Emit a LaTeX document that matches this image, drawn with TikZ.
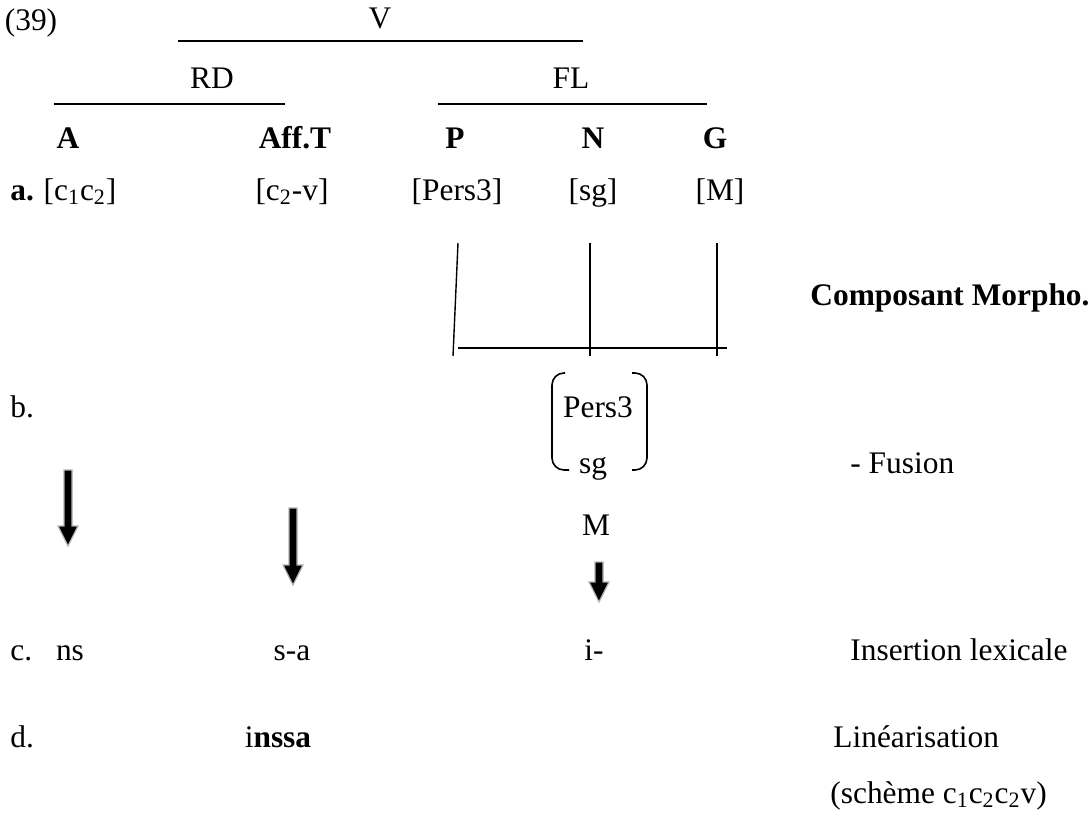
\documentclass[tikz,border=0pt]{standalone}
\usepackage{fontspec}
\setmainfont{Liberation Serif}
\usetikzlibrary{positioning}
\newcommand{\dgsize}{\fontsize{15.7}{19}\selectfont}
\tikzset{
  lbl/.style={inner sep=0pt, text height=0.7em, text depth=0.2em, font=\dgsize},
  lblL/.style={lbl, anchor=west},
  cat/.style={lbl, font=\dgsize\bfseries},
  branch/.style={line width=1.1pt},
  bar/.style={line width=0.7pt},
  paren/.style={line width=0.8pt, rounded corners=6pt},
}
% block arrow pointing down: x, top, length
\newcommand{\blockdown}[3]{%
  \begin{scope}[shift={(#1,#2)}]
    \filldraw[fill=black, draw=black!30, line width=0.6pt]
      (-4,0) -- (4,0) -- (4,#3-20) -- (10,#3-20) -- (0,#3)
      -- (-10,#3-20) -- (-4,#3-20) -- cycle;
  \end{scope}
}

\begin{document}
\begin{tikzpicture}[x=0.5pt, y=-0.5pt]
  \useasboundingbox (0,0) rectangle (1091,814);

  %% -- tree --
  \node[lbl] (num) at (31,25) {(39)};
  \node[lbl] (v)   at (380,23) {V};
  \draw[branch] (178,41) -- (583,41);
  \node[lbl] (rd)  at (212,83) {RD};
  \node[lbl] (fl)  at (571,83) {FL};
  \draw[branch] (54,104) -- (285,104);
  \draw[branch] (438,104) -- (707,104);

  \node[cat] (catA)   at (68,143)  {A};
  \node[cat] (catAff) at (295,143) {Aff.T};
  \node[cat] (catP)   at (455,143) {P};
  \node[cat] (catN)   at (593,143) {N};
  \node[cat] (catG)   at (715,143) {G};

  %% -- a. --
  \node[cat, anchor=west] (la) at (10,195) {a.};
  \node[lbl] (fA)   at (80,195)  {[c\textsubscript{1}c\textsubscript{2}]};
  \node[lbl] (fAff) at (292,195) {[c\textsubscript{2}-v]};
  \node[lbl] (fP)   at (457,195) {[Pers3]};
  \node[lbl] (fN)   at (593,195) {[sg]};
  \node[lbl] (fG)   at (720,195) {[M]};

  \draw[bar] (458,243) -- (453,356);
  \draw[bar] (590,243) -- (590,356);
  \draw[bar] (717,243) -- (717,356);
  \draw[bar] (458,348) -- (727,348);
  \draw[line width=1.3pt] (630,348) -- (650,348);
  \node[cat, anchor=west] (morpho) at (810,300) {Composant Morpho.};

  %% -- b. --
  \node[lblL] (lb) at (10,412) {b.};
  \node[lbl] (fPers) at (598,412) {Pers3};
  \node[lbl] (fSg)   at (593,468) {sg};
  \draw[paren] (565,373) -- (552,373) -- (552,470) -- (569,470);
  \draw[paren] (632,373) -- (647,373) -- (647,470) -- (632,470);
  \node[lblL] (fusion) at (850,468) {- Fusion};
  \node[lbl] (fM) at (596,530) {M};

  \blockdown{68}{470}{76}
  \blockdown{293}{508}{77}
  \blockdown{599}{562}{40}

  %% -- c. --
  \node[lblL] (lc) at (10,655) {c.};
  \node[lbl] (vA)   at (70,655)  {ns};
  \node[lbl] (vAff) at (292,655) {s-a};
  \node[lbl] (vP)   at (594,655) {i-};
  \node[lblL] (insert) at (850,655) {Insertion lexicale};

  %% -- d. --
  \node[lblL] (ld) at (10,742) {d.};
  \node[lbl] (form) at (278,742) {i\textbf{nssa}};
  \node[lblL] (linear) at (833,742) {Linéarisation};
  \node[lblL] (scheme) at (830,798) {(schème c\textsubscript{1}c\textsubscript{2}c\textsubscript{2}v)};
\end{tikzpicture}
\end{document}
